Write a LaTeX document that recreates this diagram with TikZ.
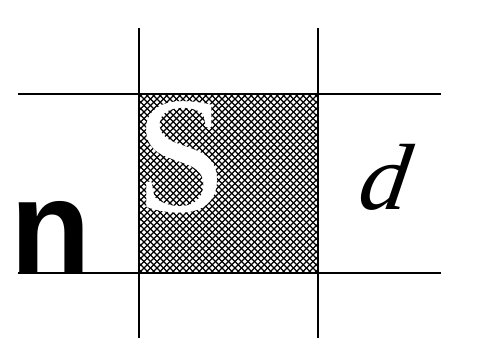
\documentclass[tikz,border=0pt]{standalone}
\usepackage{fontspec}
\setmainfont{Liberation Serif}
\newfontfamily\arialfont{Liberation Sans}
\tikzset{
  gridline/.style={line width=2pt, black},
  hatchline/.style={line width=1.1pt, black}
}
\begin{document}
\begin{tikzpicture}[x=1pt,y=-1pt]
\useasboundingbox (0,0) rectangle (483,348);
% hatched square
\begin{scope}
\clip (139,94) rectangle (318,273);
\foreach \i in {-28,...,28} {
  \draw[hatchline] ({139+6.5*\i},94) -- ++(179,179);
  \draw[hatchline] ({318+6.5*\i},94) -- ++(-179,179);
}
\end{scope}
% grid lines
\draw[gridline] (18,94) -- (441,94);
\draw[gridline] (18,273) -- (441,273);
\draw[gridline] (139,28) -- (139,338);
\draw[gridline] (318,28) -- (318,338);
% letters
\node[anchor=base west, inner sep=0pt, text=white, font=\fontsize{166}{166}\selectfont] (S) at (135,211) {S};
\node[anchor=base west, inner sep=0pt, xslant=0.15, xscale=1.05, font=\fontsize{94}{94}\selectfont\itshape] (d) at (356,209) {d};
\node[anchor=base west, inner sep=0pt, font=\arialfont\bfseries\fontsize{132}{132}\selectfont] (n) at (10,272) {n};
\end{tikzpicture}
\end{document}
